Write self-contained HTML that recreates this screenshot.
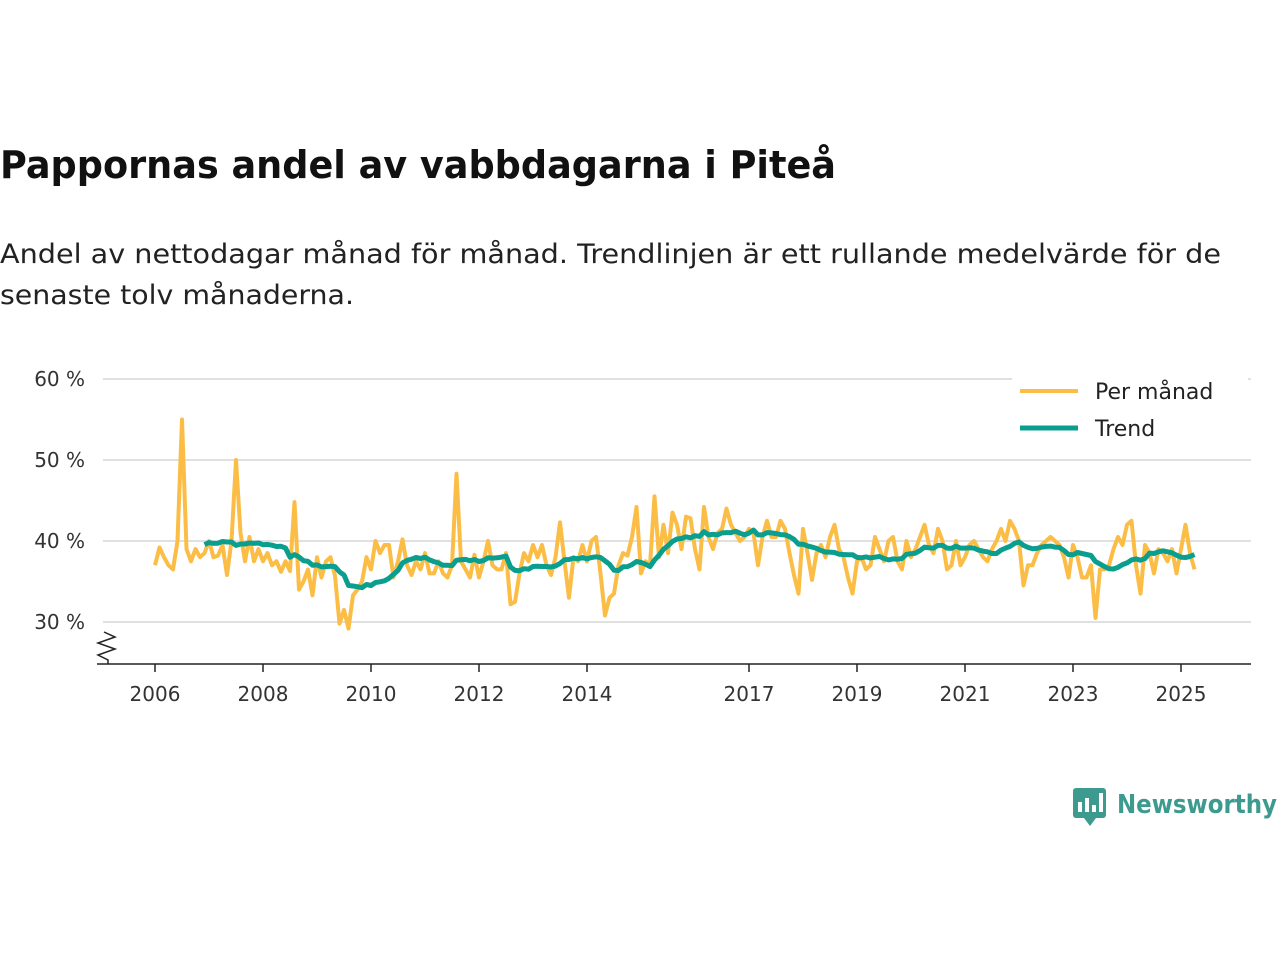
<!DOCTYPE html>
<html><head><meta charset="utf-8"><style>
body{margin:0;background:#fff;font-family:"DejaVu Sans","Liberation Sans",sans-serif;}
</style></head><body>
<svg width="1280" height="960" xmlns="http://www.w3.org/2000/svg" style="display:block;font-family:'DejaVu Sans','Liberation Sans',sans-serif">
<text x="0" y="178" font-size="38" font-weight="bold" fill="#111" textLength="836" lengthAdjust="spacingAndGlyphs">Pappornas andel av vabbdagarna i Piteå</text>
<text x="0" y="263" font-size="27" fill="#222" textLength="1221" lengthAdjust="spacingAndGlyphs">Andel av nettodagar månad för månad. Trendlinjen är ett rullande medelvärde för de</text>
<text x="0" y="304" font-size="27" fill="#222" textLength="354" lengthAdjust="spacingAndGlyphs">senaste tolv månaderna.</text>
<g id="grid"></g>
<g id="yl"></g>
<g id="xl"></g>
<line x1="97" y1="664" x2="1251" y2="664" stroke="#222" stroke-width="1.5"/>
<path d="M104,632 L115,637 L98,643 L115,649 L98,655 L108,660 L108,664" fill="none" stroke="#222" stroke-width="1.5"/>
<path id="monthly" fill="none" stroke="#fbbd45" stroke-width="4" stroke-linejoin="round"/>
<path id="trend" fill="none" stroke="#0a9e8f" stroke-width="5" stroke-linejoin="round"/>
<rect x="1012" y="372" width="236" height="80" fill="#fff"/>
<line x1="1020" y1="391" x2="1078" y2="391" stroke="#fbbd45" stroke-width="4"/>
<text x="1095" y="399" font-size="22" fill="#222">Per månad</text>
<line x1="1020" y1="428" x2="1078" y2="428" stroke="#0a9e8f" stroke-width="5"/>
<text x="1095" y="436" font-size="22" fill="#222">Trend</text>
<g>
<rect x="1073" y="788" width="33" height="30" rx="3" fill="#3d9a8f"/>
<polygon points="1084,818 1096,818 1090,826" fill="#3d9a8f"/>
<rect x="1078" y="802" width="4" height="10" fill="#fff"/><rect x="1085" y="798" width="4" height="14" fill="#fff"/><rect x="1092" y="805" width="4" height="7" fill="#fff"/><rect x="1099" y="793" width="4" height="19" fill="#fff"/>
<text x="1117" y="813" font-size="26" font-weight="bold" fill="#3d9a8f" textLength="160" lengthAdjust="spacingAndGlyphs">Newsworthy</text>
</g>
</svg>
<script>
const yTicks=[30,40,50,60];
const yTickLabels=["30 %","40 %","50 %","60 %"];
const xYears=[2006,2008,2010,2012,2014,2017,2019,2021,2023,2025];
const startYear=2006;
const monthly=[
37,39.2,38,37,36.5,40,55,39,37.5,39,38,38.5,
40,38,38.2,39.5,35.8,40,50,41,37.5,40.5,37.5,39,
37.5,38.5,37,37.5,36.2,37.5,36.3,44.8,34,35,36.5,33.3,
38,35.5,37.5,38,35.7,29.8,31.5,29.2,33.3,34,35,38,
36.5,40,38.5,39.5,39.5,35.5,37.5,40.2,37,35.8,37.5,36.5,
38.5,36,36,37.5,36,35.5,37,48.3,37.5,36.5,35.5,38.3,
35.5,37.5,40,37,36.5,36.5,38.5,32.2,32.5,36,38.5,37.5,
39.5,38,39.5,37,35.8,38,42.3,37.5,33,38,37.5,39.5,
37.5,40,40.5,36,30.8,33,33.5,37,38.5,38.2,40.5,44.2,
36,37.5,37,45.5,38,42,38.5,43.5,42,39,43,42.8,
39,36.5,44.2,40.5,39,41,41.5,44,42,41,40,40.5,
41.5,41,37,40.5,42.5,40.5,40.5,42.5,41.5,38.5,35.8,33.5,
41.5,38.5,35.2,38.5,39.5,38,40.5,42,39,38,35.5,33.5,
37.5,38,36.5,37,40.5,39,37.5,40,40.5,37.5,36.5,40,
38,39,40.5,42,39.5,38.5,41.5,40,36.5,37,40,37,
38,39.5,40,39,38,37.5,39,40,41.5,40,42.5,41.5,
40,34.5,37,37,38.5,39.5,40,40.5,40,39.5,38,35.5,
39.5,38,35.5,35.5,37,30.5,36.5,36.5,37,39,40.5,39.5,
42,42.5,37,33.5,39.5,38.5,36,39,38.5,37.5,39,36,
39,42,38.5,36.5];
function X(i){return 155+i*4.5;}
function Xy(y){return 155+(y-startYear)*54;}
function Y(v){return 622-(v-30)*8.1;}
const NS="http://www.w3.org/2000/svg";
const grid=document.getElementById('grid'),yl=document.getElementById('yl'),xl=document.getElementById('xl');
yTicks.forEach((t,k)=>{
 const l=document.createElementNS(NS,'line');
 l.setAttribute('x1',103);l.setAttribute('x2',1251);l.setAttribute('y1',Y(t));l.setAttribute('y2',Y(t));
 l.setAttribute('stroke','#d6d6d6');l.setAttribute('stroke-width','1.5');
 
 
 grid.appendChild(l);
 const tx=document.createElementNS(NS,'text');
 tx.setAttribute('x',85);tx.setAttribute('y',Y(t)+7);tx.setAttribute('text-anchor','end');
 tx.setAttribute('font-size','20');tx.setAttribute('fill','#333');tx.textContent=yTickLabels[k];
 
 
 yl.appendChild(tx);
});
xYears.forEach(y=>{
 const x=Xy(y);
 const l=document.createElementNS(NS,'line');
 l.setAttribute('x1',x);l.setAttribute('x2',x);l.setAttribute('y1',664);l.setAttribute('y2',672);
 l.setAttribute('stroke','#222');l.setAttribute('stroke-width','1.5');
 
 
 xl.appendChild(l);
 const tx=document.createElementNS(NS,'text');
 tx.setAttribute('x',x);tx.setAttribute('y',701);tx.setAttribute('text-anchor','middle');
 tx.setAttribute('font-size','20');tx.setAttribute('fill','#333');tx.textContent=y;
 
 
 xl.appendChild(tx);
});
document.getElementById('monthly').setAttribute('d',monthly.map((v,i)=>(i?'L':'M')+X(i).toFixed(1)+','+Y(v).toFixed(1)).join(' '));
let td=[];
for(let i=11;i<monthly.length;i++){let s=0;for(let j=i-11;j<=i;j++)s+=monthly[j];td.push((td.length?'L':'M')+X(i).toFixed(1)+','+Y(s/12).toFixed(1));}
document.getElementById('trend').setAttribute('d',td.join(' '));
</script>
</body></html>
